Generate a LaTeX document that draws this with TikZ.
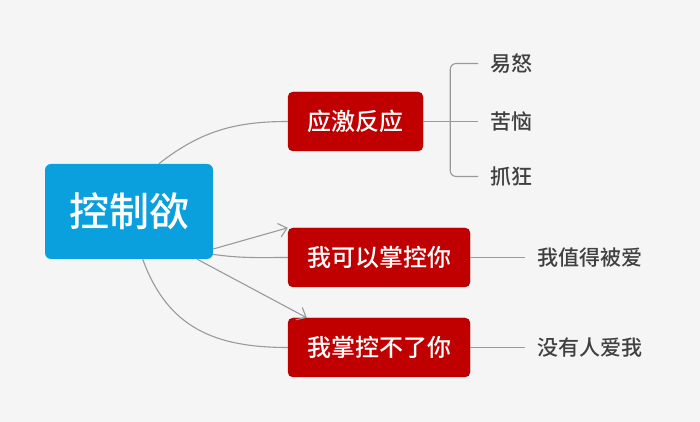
\documentclass[tikz,border=0pt]{standalone}
\usepackage{fontspec}
\setmainfont{Noto Sans CJK SC}
\newfontfamily\medio{Noto Sans CJK SC Medium}
\usetikzlibrary{arrows.meta,positioning}
\definecolor{fondo}{HTML}{F5F5F5}
\definecolor{azul}{HTML}{0AA0DD}
\definecolor{rojo}{HTML}{C00000}
\definecolor{linea}{HTML}{9A9A9A}
\definecolor{texto}{HTML}{404040}
\tikzset{
	every node/.style={
		font=\medio
	},
	raiz/.style={
		shape=rectangle,
		minimum width=168pt,
		minimum height=95pt,
		text centered,
		rounded corners=6pt,
		fill=azul,
		text=white,
		font=\fontsize{40}{40}\selectfont\medio
	},
	rama/.style={
		shape=rectangle,
		minimum height=59pt,
		text centered,
		rounded corners=5pt,
		fill=rojo,
		draw=rojo!85!black,
		text=white,
		font=\fontsize{24}{24}\selectfont\medio
	},
	hoja/.style={
		anchor=west,
		inner xsep=12pt,
		text=texto,
		font=\fontsize{21}{21}\selectfont\medio
	},
	conector/.style={draw=linea, line width=1.1pt},
	flecha/.style={conector, -{Straight Barb[length=8pt,width=14pt]}},
}

\begin{document}
\begin{tikzpicture}[x=1pt,y=1pt]
	\fill[fondo] (0,0) rectangle (700,422);
	\useasboundingbox (0,0) rectangle (700,422);
	
	% Nodo central
	\node[raiz] (ctrl) at (129,210.5) {控制欲};
	
	% Ramas
	\node[rama, minimum width=135pt] (estres)  at (355.5,300.5) {应激反应};
	\node[rama, minimum width=182pt] (puedo)   at (379,164.5)   {我可以掌控你};
	\node[rama, minimum width=182pt] (nopuedo) at (379,74.5)    {我掌控不了你};
	
	% Hojas
	\node[hoja, right=55pt of estres]               (kunao)     {苦恼};
	\node[hoja, right=55pt of estres, yshift=58pt]  (yinu)      {易怒};
	\node[hoja, right=55pt of estres, yshift=-55pt] (zhuakuang) {抓狂};
	\node[hoja, right=55pt of puedo]                (valgo)     {我值得被爱};
	\node[hoja, right=55pt of nopuedo]              (nadie)     {没有人爱我};
	
	% Llave de las hojas
	\coordinate (llave) at ([xshift=27pt]estres.east);
	\draw[conector, rounded corners=6pt] (yinu.west) -| (llave) |- (zhuakuang.west);
	\draw[conector] (estres.east) -- (kunao.west);
	\draw[conector] (puedo.east) -- (valgo.west);
	\draw[conector] (nopuedo.east) -- (nadie.west);
	
	% Curvas desde el nodo central
	\draw[conector] (ctrl.58) to[out=38, in=180] (estres.west);
	\draw[conector] (ctrl.-27) to[out=-8, in=180] (puedo.west);
	\draw[conector] (ctrl.-74) to[out=-70, in=180, looseness=1.1] (nopuedo.west);
	
	% Flechas
	\draw[flecha] (ctrl.-24) -- (puedo.north west);
	\draw[flecha] (ctrl.-35) -- ([xshift=19pt]nopuedo.north west);
\end{tikzpicture}
\end{document}
